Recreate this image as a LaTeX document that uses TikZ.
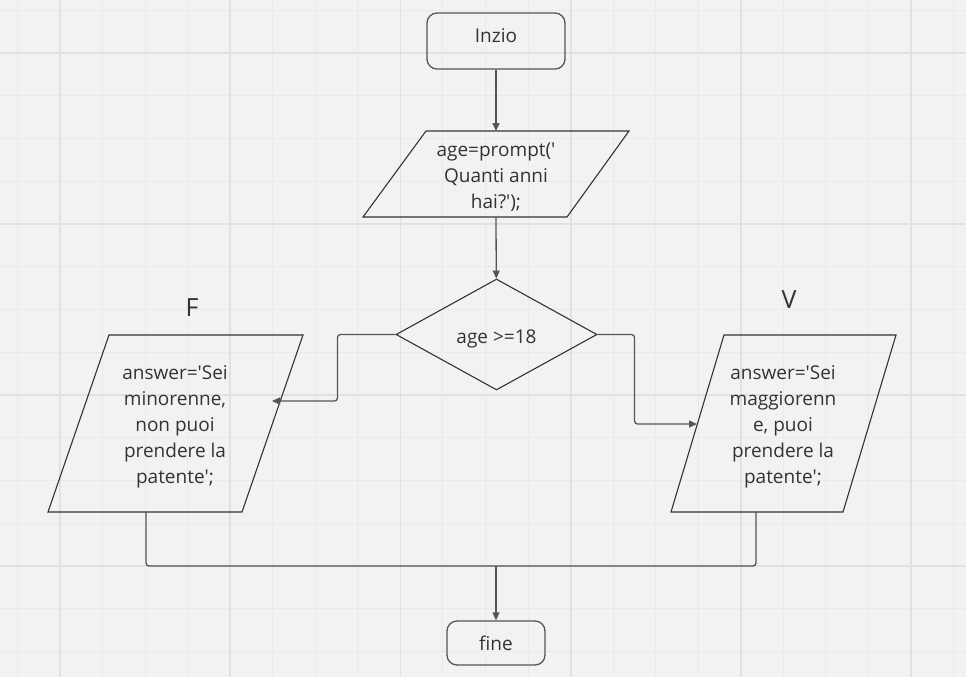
\documentclass[tikz,border=0pt]{standalone}
\usepackage{fontspec}
\setmainfont{Open Sans}
\usetikzlibrary{shapes.geometric,arrows.meta}

\definecolor{paper}{HTML}{F2F2F2}
\definecolor{gridminor}{HTML}{EAEAEA}
\definecolor{gridmajor}{HTML}{E1E1E1}
\definecolor{ink}{HTML}{333333}
\definecolor{linegray}{HTML}{555555}

\newcommand{\qt}{\textquotesingle}

\begin{document}
\begin{tikzpicture}
  [x=1pt,y=-1pt,
   every node/.style={font=\fontsize{19}{26}\selectfont,text=ink,align=center},
   term/.style={draw=linegray,line width=1.3pt,rounded corners=10pt},
   cond/.style={diamond,draw=ink,line width=1.1pt,minimum width=201pt,minimum height=111pt,inner sep=0pt},
   iobox/.style={draw=ink,line width=1.1pt},
   big/.style={font=\fontsize{25}{30}\selectfont},
   arr/.style={draw=linegray,line width=1.3pt,rounded corners=3pt,-{Triangle[length=8pt,width=7pt]}},
   wire/.style={draw=linegray,line width=1.3pt,rounded corners=3pt}]
  \useasboundingbox (0,0) rectangle (966,677);

  % sheet
  \fill[paper] (0,0) rectangle (966,677);
  \foreach \i in {0,...,22}
    \draw[gridminor,line width=1pt] ({17.4+42.55*\i},0) -- ({17.4+42.55*\i},677);
  \foreach \j in {0,...,15}
    \draw[gridminor,line width=1pt] (0,{10.25+42.75*\j}) -- (966,{10.25+42.75*\j});
  \foreach \i in {0,...,5}
    \draw[gridmajor,line width=1.8pt] ({60+170.2*\i},0) -- ({60+170.2*\i},677);
  \foreach \j in {0,...,3}
    \draw[gridmajor,line width=1.8pt] (0,{53+171*\j}) -- (966,{53+171*\j});

  % blocks
  \node[term,minimum width=138pt,minimum height=56pt] (start) at (496,41) {\raisebox{11pt}{Inzio}};
  \node (input) at (496,177) {age=prompt(\qt\\Quanti anni\\hai?\qt);};
  \node[cond] (check) at (496.5,334.5) {\raisebox{-4pt}[\height][\depth]{age >=18}};
  \node (minor) at (175,427) {answer=\qt Sei\\minorenne,\\non puoi\\prendere la\\patente\qt;};
  \node (major) at (783,427) {answer=\qt Sei\\maggiorenn\\e, puoi\\prendere la\\patente\qt;};
  \node[big] (lblF) at (192,308) {F};
  \node[big] (lblV) at (789,300) {V};
  \node[term,minimum width=98pt,minimum height=44pt] (finish) at (496,643) {fine};

  \draw[iobox] (426,131) -- (629,131) -- (567,217) -- (363,217) -- cycle;
  \draw[iobox] (109,335) -- (303,335) -- (242,512) -- (48,512) -- cycle;
  \draw[iobox] (724,335) -- (896,335) -- (843,512) -- (671,512) -- cycle;

  \coordinate (input-n) at (496,131);
  \coordinate (input-s) at (496,217);
  \coordinate (minor-e) at (272,401);
  \coordinate (minor-s) at (146,512);
  \coordinate (major-w) at (697,424);
  \coordinate (major-s) at (756,512);
  \coordinate (merge) at (496,566);

  % links
  \draw[arr] (start) -- (input-n);
  \draw[arr] (input-s) -- (check);
  \draw[arr] (check.west) -- ++(-58,0) |- (minor-e);
  \draw[arr] (check.east) -- ++(37,0) |- (major-w);
  \draw[wire] (minor-s) |- (merge) -| (major-s);
  \draw[arr] (merge) -- (finish);
\end{tikzpicture}
\end{document}
